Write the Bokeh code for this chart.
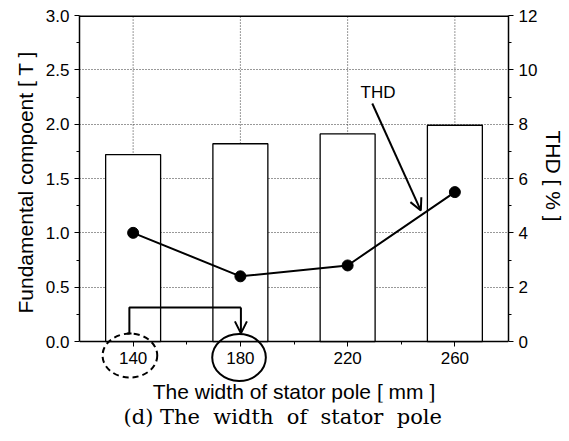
from bokeh.plotting import figure
from bokeh.models import (LinearAxis, Range1d, FixedTicker, Arrow, OpenHead,
                          Label, Title, PrintfTickFormatter)
from bokeh.embed import file_html
from bokeh.resources import INLINE

# ---- data ----
widths = [140, 180, 220, 260]          # width of stator pole [mm]
fundamental = [1.72, 1.82, 1.91, 1.99]  # fundamental component [T]
thd = [4.0, 2.4, 2.8, 5.5]              # THD [%]
x_minor = [160, 200, 240]
left_ticks = [0.0, 0.5, 1.0, 1.5, 2.0, 2.5, 3.0]
left_minor = [0.25, 0.75, 1.25, 1.75, 2.25, 2.75]
right_ticks = [0, 2, 4, 6, 8, 10, 12]
right_minor = [1, 3, 5, 7, 9, 11]

SANS = "Liberation Sans"
SERIF = "DejaVu Serif"

YMAX, Y2MAX = 3.0, 12.0
YLOW = -0.561              # frame extends below zero to hold the circled ticks and x label
XMIN, XMAX = 120, 280

p = figure(width=567, height=433, x_range=Range1d(XMIN, XMAX), y_range=Range1d(YLOW, YMAX),
           output_backend="svg", toolbar_location=None,
           min_border_left=79, min_border_right=58, min_border_top=15, min_border_bottom=31)
p.extra_y_ranges = {"thd": Range1d(YLOW * Y2MAX / YMAX, Y2MAX)}
p.background_fill_color = "white"
p.border_fill_color = "white"
p.outline_line_color = None

def style_axis(ax):
    ax.axis_line_color = "black"
    ax.axis_line_width = 1.5
    ax.major_tick_line_color = "black"
    ax.minor_tick_line_color = "black"
    ax.major_tick_out = 5
    ax.major_tick_in = 0
    ax.minor_tick_out = 3
    ax.minor_tick_in = 0
    ax.major_label_text_font = SANS
    ax.major_label_text_font_size = "17px"
    ax.major_label_text_color = "black"
    ax.axis_label_text_font = SANS
    ax.axis_label_text_font_size = "21px"
    ax.axis_label_text_font_style = "normal"
    ax.axis_label_text_color = "black"

p.xaxis.ticker = FixedTicker(ticks=widths, minor_ticks=x_minor)
p.xaxis.axis_label = "The width of stator pole [ mm ]"
p.xaxis.axis_label_standoff = 13
p.xaxis.fixed_location = 0
p.yaxis.ticker = FixedTicker(ticks=left_ticks, minor_ticks=left_minor)
p.yaxis.formatter = PrintfTickFormatter(format="%.1f")
p.yaxis.bounds = (0, YMAX)
style_axis(p.xaxis[0])
style_axis(p.yaxis[0])

rax = LinearAxis(y_range_name="thd", ticker=FixedTicker(ticks=right_ticks, minor_ticks=right_minor),
                 formatter=PrintfTickFormatter(format="%d"), bounds=(0, Y2MAX))
style_axis(rax)
p.add_layout(rax, "right")

# axis titles, placed along the 0..3 part of the frame
p.add_layout(Title(text="Fundamental compoent [ T ]", align="left", offset=89, standoff=12,
                   text_font=SANS, text_font_size="21px", text_font_style="normal",
                   text_color="black"), "left")
p.add_layout(Title(text="THD [ % ]", align="left", offset=115, standoff=2,
                   text_font=SANS, text_font_size="21px", text_font_style="normal",
                   text_color="black"), "right")

# grid: horizontal from the axis grid, vertical dotted lines only between 0 and 3
p.xgrid.visible = False
p.ygrid.ticker = FixedTicker(ticks=left_ticks[1:-1])
p.ygrid.grid_line_color = "#333333"
p.ygrid.grid_line_dash = "1 2"
p.ygrid.grid_line_width = 1
p.segment(x0=widths, y0=[0] * len(widths), x1=widths, y1=[YMAX] * len(widths),
          line_color="#333333", line_dash="1 2", line_width=1)

# top border of the plot box
p.line([XMIN, XMAX], [YMAX, YMAX], line_color="black", line_width=3)

# bars
p.vbar(x=widths, top=fundamental, width=20.5, fill_color="white", line_color="black", line_width=1.3)

# THD line
p.line(widths, thd, y_range_name="thd", line_color="black", line_width=2)
p.scatter(widths, thd, y_range_name="thd", size=11, fill_color="black", line_color="black")

# THD label and arrow
p.add_layout(Label(x=224.8, y=2.20, text="THD", text_font=SANS, text_font_size="17px",
                   text_color="black"))
p.add_layout(Arrow(end=OpenHead(size=12, line_width=2, line_color="black"),
                   x_start=229.2, y_start=2.19, x_end=247.3, y_end=1.205,
                   line_width=2, line_color="black"))

# bracket arrow from 140 to 180
p.line([138.6, 138.6, 180.2], [0.074, 0.313, 0.313], line_color="black", line_width=2)
p.line([137.8, 139.4], [0.074, 0.074], line_color="black", line_width=2)
p.add_layout(Arrow(end=OpenHead(size=12, line_width=2, line_color="black"),
                   x_start=180.2, y_start=0.313, x_end=180.2, y_end=0.075,
                   line_width=2, line_color="black"))

# ellipses round the tick labels 140 and 180
p.ellipse(x=[138.8], y=[-0.129], width=20.4, height=0.404, fill_alpha=0,
          line_color="black", line_width=2, line_dash="6 4")
p.ellipse(x=[179.5], y=[-0.147], width=20.0, height=0.432, fill_alpha=0,
          line_color="black", line_width=2)

# caption
cap = Title(text="(d)\u00a0The\u00a0\u00a0width\u00a0\u00a0of\u00a0\u00a0stator\u00a0\u00a0pole", align="left",
            offset=44, text_font=SERIF, text_font_size="21px", text_font_style="normal",
            text_color="black", standoff=0)
p.add_layout(cap, "below")

open("out.html", "w").write(file_html(p, INLINE))
